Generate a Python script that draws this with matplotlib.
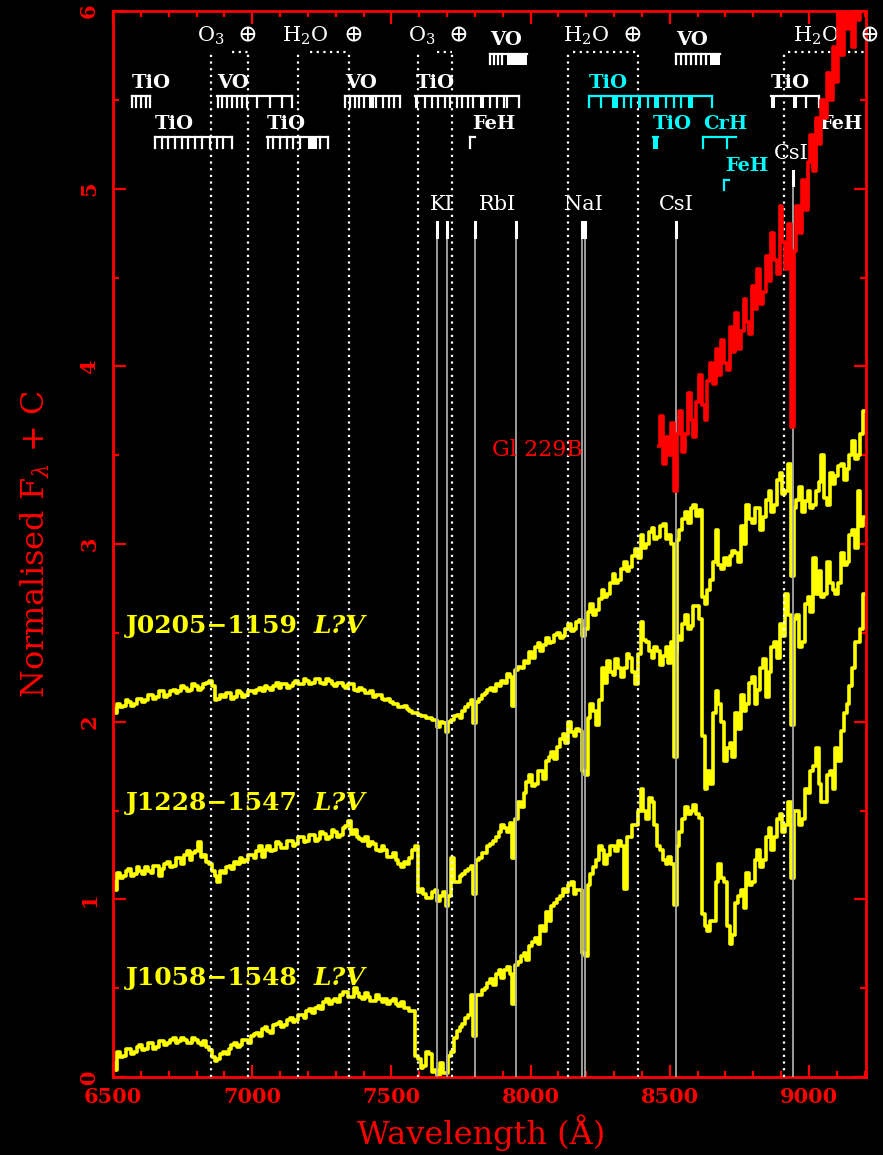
import numpy as np
import matplotlib
matplotlib.use("Agg")
import matplotlib.pyplot as plt
from matplotlib.ticker import MultipleLocator

plt.rcParams['font.family'] = ['DejaVu Serif']
plt.rcParams['mathtext.fontset'] = 'dejavuserif'

# spectra, 10 A bins from 6500 to 9200 (one row = 100 A)
wave = np.arange(6500, 9201, 10)
j0205 = [
    2.07, 2.05, 2.10, 2.08, 2.09, 2.12, 2.11, 2.09, 2.10, 2.13,
    2.13, 2.11, 2.12, 2.15, 2.15, 2.13, 2.14, 2.17, 2.17, 2.14,
    2.15, 2.17, 2.18, 2.16, 2.17, 2.20, 2.19, 2.17, 2.18, 2.21,
    2.20, 2.18, 2.19, 2.21, 2.22, 2.23, 2.20, 2.12, 2.13, 2.15,
    2.14, 2.16, 2.16, 2.13, 2.14, 2.17, 2.16, 2.14, 2.15, 2.17,
    2.17, 2.16, 2.18, 2.19, 2.17, 2.20, 2.19, 2.18, 2.20, 2.22,
    2.19, 2.21, 2.21, 2.19, 2.20, 2.22, 2.23, 2.21, 2.21, 2.24,
    2.23, 2.21, 2.22, 2.24, 2.24, 2.22, 2.21, 2.24, 2.23, 2.21,
    2.20, 2.22, 2.22, 2.20, 2.19, 2.21, 2.21, 2.18, 2.17, 2.19,
    2.18, 2.16, 2.16, 2.17, 2.14, 2.15, 2.15, 2.13, 2.12, 2.13,
    2.11, 2.10, 2.10, 2.08, 2.08, 2.09, 2.07, 2.06, 2.05, 2.05,
    2.04, 2.03, 2.03, 2.02, 2.02, 2.01, 2.01, 1.97, 2.00, 1.99,
    1.94, 2.00, 2.01, 2.03, 2.04, 2.02, 2.06, 2.08, 2.10, 2.12,
    1.99, 2.11, 2.13, 2.15, 2.16, 2.18, 2.19, 2.17, 2.21, 2.20,
    2.23, 2.22, 2.27, 2.25, 2.09, 2.29, 2.31, 2.30, 2.34, 2.33,
    2.39, 2.36, 2.42, 2.44, 2.40, 2.43, 2.47, 2.44, 2.45, 2.49,
    2.50, 2.47, 2.48, 2.52, 2.55, 2.51, 2.52, 2.56, 2.57, 2.48,
    2.52, 2.62, 2.66, 2.60, 2.63, 2.69, 2.74, 2.70, 2.72, 2.78,
    2.83, 2.78, 2.80, 2.86, 2.90, 2.85, 2.87, 2.93, 2.97, 2.92,
    3.05, 2.98, 3.00, 3.07, 3.09, 3.03, 3.04, 3.10, 3.11, 3.03,
    3.05, 3.00, 2.40, 3.02, 3.08, 3.14, 3.18, 3.12, 3.20, 3.22,
    3.16, 3.19, 2.70, 2.66, 2.74, 2.80, 2.90, 3.08, 2.88, 2.86,
    2.92, 2.88, 2.93, 2.96, 2.95, 2.90, 3.10, 3.00, 3.22, 3.14,
    3.12, 3.20, 3.20, 3.08, 3.15, 3.25, 3.30, 3.18, 3.22, 3.36,
    3.40, 3.28, 3.30, 3.45, 2.82, 3.20, 3.25, 3.32, 3.18, 3.24,
    3.30, 3.20, 3.22, 3.30, 3.35, 3.50, 3.26, 3.22, 3.40, 3.34,
    3.38, 3.44, 3.45, 3.36, 3.42, 3.50, 3.58, 3.48, 3.50, 3.62,
    3.75,
]
j1228 = [
    1.10, 1.05, 1.15, 1.12, 1.13, 1.16, 1.17, 1.13, 1.14, 1.18,
    1.16, 1.14, 1.18, 1.16, 1.15, 1.19, 1.19, 1.13, 1.17, 1.20,
    1.21, 1.18, 1.19, 1.23, 1.23, 1.20, 1.25, 1.27, 1.22, 1.26,
    1.27, 1.32, 1.24, 1.25, 1.21, 1.20, 1.16, 1.13, 1.10, 1.16,
    1.15, 1.18, 1.19, 1.17, 1.21, 1.20, 1.23, 1.21, 1.22, 1.25,
    1.25, 1.23, 1.27, 1.30, 1.24, 1.28, 1.30, 1.27, 1.28, 1.32,
    1.31, 1.29, 1.29, 1.33, 1.33, 1.30, 1.31, 1.35, 1.35, 1.32,
    1.33, 1.36, 1.36, 1.33, 1.34, 1.38, 1.37, 1.34, 1.35, 1.39,
    1.38, 1.35, 1.36, 1.40, 1.41, 1.44, 1.37, 1.39, 1.35, 1.34,
    1.33, 1.35, 1.30, 1.32, 1.31, 1.28, 1.27, 1.30, 1.28, 1.24,
    1.24, 1.26, 1.22, 1.20, 1.18, 1.21, 1.20, 1.23, 1.28, 1.30,
    1.04, 1.06, 1.03, 1.01, 1.01, 1.04, 1.05, 0.99, 1.02, 1.04,
    0.96, 1.02, 1.23, 1.10, 1.10, 1.13, 1.14, 1.16, 1.17, 1.19,
    1.03, 1.22, 1.23, 1.26, 1.26, 1.30, 1.31, 1.33, 1.35, 1.38,
    1.42, 1.40, 1.38, 1.43, 1.23, 1.45, 1.55, 1.52, 1.60, 1.66,
    1.70, 1.64, 1.65, 1.72, 1.72, 1.68, 1.78, 1.80, 1.83, 1.79,
    1.86, 1.90, 1.93, 1.88, 2.00, 1.94, 1.92, 1.96, 1.95, 1.72,
    1.70, 2.02, 2.10, 2.06, 1.98, 2.12, 2.30, 2.22, 2.34, 2.28,
    2.26, 2.35, 2.30, 2.25, 2.30, 2.38, 2.36, 2.28, 2.21, 2.38,
    2.56, 2.46, 2.45, 2.40, 2.36, 2.42, 2.40, 2.32, 2.37, 2.42,
    2.33, 2.45, 1.80, 2.48, 2.46, 2.55, 2.60, 2.52, 2.54, 2.65,
    2.65, 2.58, 1.92, 1.62, 1.72, 1.65, 2.05, 2.17, 2.10, 2.00,
    1.78, 1.85, 1.88, 1.80, 2.05, 1.96, 2.15, 2.06, 2.10, 2.22,
    2.25, 2.10, 2.18, 2.30, 2.35, 2.14, 2.28, 2.42, 2.45, 2.36,
    2.55, 2.48, 2.72, 2.60, 1.98, 2.58, 2.60, 2.42, 2.45, 2.66,
    2.70, 2.62, 2.92, 2.72, 2.85, 2.70, 2.72, 2.90, 2.78, 2.74,
    2.72, 2.78, 2.95, 2.88, 2.90, 3.05, 3.08, 2.98, 3.30, 3.10,
    3.15,
]
j1058 = [
    0.08, 0.04, 0.14, 0.11, 0.12, 0.16, 0.16, 0.13, 0.14, 0.17,
    0.18, 0.15, 0.16, 0.19, 0.19, 0.16, 0.17, 0.20, 0.20, 0.18,
    0.19, 0.21, 0.22, 0.19, 0.20, 0.22, 0.21, 0.19, 0.19, 0.22,
    0.21, 0.19, 0.18, 0.20, 0.17, 0.15, 0.11, 0.09, 0.10, 0.13,
    0.14, 0.13, 0.16, 0.18, 0.19, 0.17, 0.18, 0.21, 0.21, 0.19,
    0.23, 0.24, 0.25, 0.23, 0.27, 0.28, 0.26, 0.25, 0.29, 0.30,
    0.31, 0.28, 0.29, 0.32, 0.33, 0.31, 0.32, 0.35, 0.35, 0.33,
    0.37, 0.38, 0.36, 0.39, 0.40, 0.38, 0.42, 0.44, 0.41, 0.43,
    0.44, 0.42, 0.46, 0.48, 0.48, 0.45, 0.45, 0.50, 0.47, 0.45,
    0.44, 0.47, 0.45, 0.43, 0.43, 0.46, 0.44, 0.42, 0.44, 0.41,
    0.43, 0.44, 0.41, 0.40, 0.42, 0.39, 0.39, 0.37, 0.37, 0.12,
    0.10, 0.05, 0.06, 0.14, 0.13, 0.03, 0.04, 0.00, 0.08, 0.02,
    0.02, 0.12, 0.14, 0.22, 0.26, 0.28, 0.30, 0.33, 0.35, 0.46,
    0.23, 0.46, 0.46, 0.49, 0.50, 0.53, 0.55, 0.52, 0.58, 0.60,
    0.56, 0.60, 0.62, 0.58, 0.41, 0.63, 0.65, 0.68, 0.70, 0.66,
    0.74, 0.76, 0.78, 0.75, 0.85, 0.82, 0.93, 0.88, 0.96, 0.98,
    1.00, 1.02, 1.06, 1.04, 1.08, 1.10, 1.03, 1.05, 1.05, 0.70,
    0.68, 1.08, 1.14, 1.18, 1.22, 1.30, 1.28, 1.20, 1.25, 1.30,
    1.30, 1.27, 1.33, 1.30, 1.06, 1.35, 1.35, 1.42, 1.42, 1.50,
    1.62, 1.50, 1.45, 1.57, 1.55, 1.42, 1.30, 1.28, 1.22, 1.20,
    1.24, 1.20, 0.97, 1.30, 1.38, 1.45, 1.52, 1.48, 1.50, 1.53,
    1.48, 1.46, 0.92, 0.85, 0.82, 0.88, 0.88, 1.10, 1.20, 1.12,
    1.10, 0.85, 0.75, 0.80, 0.98, 1.02, 1.05, 0.95, 1.15, 1.08,
    1.10, 1.22, 1.28, 1.18, 1.22, 1.35, 1.40, 1.28, 1.35, 1.45,
    1.48, 1.38, 1.42, 1.55, 1.12, 1.50, 1.50, 1.42, 1.45, 1.62,
    1.60, 1.72, 1.75, 1.85, 1.65, 1.55, 1.55, 1.70, 1.72, 1.62,
    1.85, 1.78, 1.95, 2.05, 2.10, 2.20, 2.30, 2.45, 2.45, 2.52,
    2.72,
]
gl_wave = np.arange(8460, 9201, 10)
gl229b = [
    3.55, 3.72, 3.45, 3.60, 3.50, 3.68, 3.30, 3.62, 3.75, 3.52,
    3.62, 3.85, 3.70, 3.60, 3.80, 3.95, 3.78, 3.70, 3.92, 4.02,
    3.90, 4.10, 3.95, 4.15, 4.02, 3.98, 4.22, 4.08, 4.30, 4.10,
    4.20, 4.38, 4.25, 4.18, 4.45, 4.32, 4.55, 4.35, 4.42, 4.62,
    4.48, 4.75, 4.60, 4.52, 4.90, 4.70, 4.55, 4.80, 3.66, 4.65,
    4.90, 4.75, 5.05, 4.88, 5.15, 5.30, 5.10, 5.40, 5.25, 5.50,
    5.40, 5.65, 5.50, 5.80, 5.60, 6.00, 5.75, 6.20, 5.90, 6.30,
    5.80, 6.30, 5.95, 6.40, 6.10,
]

spec_names = ["J0205\u22121159", "J1228\u22121547", "J1058\u22121548"]
spec_class = ["L?V", "L?V", "L?V"]
spec_label_y = [2.54, 1.54, 0.56]

# atomic lines: (label, label x, label y, line wavelengths, top of line)
atomic = [
    ("KI", 7680, 4.91, [7665, 7699], 4.81),
    ("RbI", 7881, 4.91, [7800, 7948], 4.81),
    ("NaI", 8191, 4.91, [8183, 8195], 4.81),
    ("CsI", 8525, 4.91, [8521], 4.81),
    ("CsI", 8935, 5.20, [8943], 5.10),
]

# telluric bands: (label, text left, line start, line end, dotted from)
telluric = [
    ("O$_3$", 6802, 6853, 6986, 6928),
    ("H$_2$O", 7108, 7165, 7349, 7209),
    ("O$_3$", 7558, 7597, 7716, 7665),
    ("H$_2$O", 8115, 8133, 8385, 8151),
    ("H$_2$O", 8942, 8910, None, 8924),
]
earth_x = [6982, 7363, 7741, 8367, 9216]

# molecular bands: (label, colour, row, start, end, ticks, filled blocks)
rows = {"A": 5.76, "B": 5.52, "C": 5.29, "D": 5.05}
bands = [
    ("TiO", "w", "B", 6568, 6633, [6568, 6582, 6600, 6618, 6633], []),
    ("VO", "w", "B", 6874, 7144,
     [6878, 6892, 6910, 6928, 6946, 6964, 6982, 7018, 7065, 7108, 7144], []),
    ("VO", "w", "B", 7335, 7532,
     [7335, 7352, 7368, 7385, 7400, 7445, 7470, 7490, 7510, 7532], [(7418, 7436)]),
    ("TiO", "w", "C", 6651, 6928,
     [6651, 6676, 6698, 6723, 6748, 6770, 6795, 6820, 6849, 6874, 6896, 6928], []),
    ("TiO", "w", "C", 7054, 7273,
     [7058, 7076, 7101, 7126, 7147, 7173, 7245, 7273], [(7201, 7234)]),
    ("VO", "w", "A", 7853, 7989, [7853, 7867, 7882, 7899], [(7917, 7989)]),
    ("TiO", "w", "B", 7586, 7957,
     [7622, 7647, 7669, 7694, 7712, 7737, 7755, 7777, 7795, 7856, 7881, 7903,
      7917, 7957], [(7586, 7597), (7820, 7831)]),
    ("FeH", "w", "C", 7784, 7800, [7784], []),
    ("TiO", "c", "B", 8209, 8651,
     [8209, 8252, 8335, 8360, 8421, 8486, 8514, 8540, 8651],
     [(8291, 8313), (8385, 8396), (8442, 8461), (8565, 8583)]),
    ("VO", "w", "A", 8522, 8680, [8522, 8540, 8558, 8576, 8594, 8612, 8630],
     [(8644, 8680)]),
    ("TiO", "c", "C", 8439, 8457, [], [(8439, 8457)]),
    ("CrH", "c", "C", 8619, 8737, [8619, 8705], []),
    ("FeH", "c", "D", 8694, 8712, [8694], []),
    ("TiO", "w", "B", 8863, 9036, [8990, 9036], [(8863, 8878), (8942, 8957)]),
    ("FeH", "w", "C", 9032, 9032, [], []),
]

YEL = "#ffff00"
RED = "#ff0000"
CYAN = "#00ffff"
GREY = "#a8a8a8"
colours = {"w": "white", "c": CYAN}

fig = plt.figure(figsize=(8.83, 11.55), dpi=100, facecolor="black")
ax = fig.add_axes([113 / 883, 1 - 1077 / 1155, 753 / 883, 1066 / 1155])
ax.set_facecolor("black")

for s in (j0205, j1228, j1058):
    ax.step(wave, s, where="mid", color=YEL, lw=2.6, zorder=2)
ax.step(gl_wave, gl229b, where="mid", color=RED, lw=2.6, zorder=6)

dot = (0, (1, 2))
for lab, tx, x0, x1, hx in telluric:
    ax.plot([x0, x0], [0, 5.76], color="white", ls=dot, lw=1.6, zorder=3)
    xe = x1 if x1 is not None else 9205
    if x1 is not None:
        ax.plot([x1, x1], [0, 5.76], color="white", ls=dot, lw=1.6, zorder=3)
    ax.plot([hx, xe], [5.77, 5.77], color="white", ls=dot, lw=1.6, zorder=3)
    ax.text(tx, 5.86, lab, color="white", fontsize=15, ha="left", va="center",
            zorder=5)
for ex in earth_x:
    ax.text(ex, 5.86, "\u2295", color="white", fontsize=17, ha="center",
            va="center", zorder=5, clip_on=False)

for lab, lx, ly, lines, top in atomic:
    for w in lines:
        ax.plot([w, w], [0, top], color=GREY, lw=1.3, zorder=3)
        ax.plot([w, w], [top - 0.08, top], color="white", lw=2.2, zorder=3)
    ax.text(lx, ly, lab, color="white", fontsize=15, ha="center", va="center",
            zorder=5)

for lab, c, row, x0, x1, ticks, fills in bands:
    col = colours[c]
    y = rows[row]
    if x1 > x0:
        ax.plot([x0, x1], [y, y], color=col, lw=1.6, zorder=4)
    for t in ticks:
        ax.plot([t, t], [y - 0.06, y], color=col, lw=1.6, zorder=4)
    for fa, fb in fills:
        ax.fill_between([fa, fb], y - 0.065, y, color=col, lw=0, zorder=4)
    tx = x0 + 6 if lab == "FeH" else x0
    ax.text(tx, y + 0.075, lab, color=col, fontsize=14, fontweight="bold",
            ha="left", va="center", zorder=5)

for name, cls, ly in zip(spec_names, spec_class, spec_label_y):
    t = ax.text(6548, ly, name, color=YEL, fontsize=18, fontweight="bold",
                ha="left", va="center", zorder=5)
    ax.annotate(cls, xy=(1, 0.5), xycoords=t, xytext=(11, 0),
                textcoords="offset points", color=YEL, fontsize=18,
                fontweight="bold", style="italic", ha="left", va="center",
                zorder=5)
ax.text(8025, 3.53, "Gl 229B", color=RED, fontsize=16, ha="center",
        va="center", zorder=5)

ax.set_xlim(6500, 9205)
ax.set_ylim(0, 6)
ax.xaxis.set_major_locator(MultipleLocator(500))
ax.xaxis.set_minor_locator(MultipleLocator(100))
ax.yaxis.set_major_locator(MultipleLocator(1))
ax.yaxis.set_minor_locator(MultipleLocator(0.5))
ax.tick_params(which="both", direction="in", top=True, right=True,
               colors=RED, width=1.6)
ax.tick_params(which="major", length=9, labelsize=15)
ax.tick_params(which="minor", length=4.5)
ax.tick_params(axis="x", pad=7)
ax.tick_params(axis="y", pad=10)
for sp in ax.spines.values():
    sp.set_color(RED)
    sp.set_linewidth(2)
for lab in ax.get_xticklabels() + ax.get_yticklabels():
    lab.set_fontweight("bold")
for lab in ax.get_yticklabels():
    lab.set_rotation(90)
    lab.set_va("center")

fig.text(481 / 883, 1 - 1133 / 1155, "Wavelength (\u00c5)", color=RED,
         fontsize=23, ha="center", va="center")
fig.text(35 / 883, 1 - 544 / 1155, r"Normalised F$_\lambda$ + C", color=RED,
         fontsize=23, rotation=90, ha="center", va="center")

fig.savefig("out.png", dpi=100, facecolor="black")
